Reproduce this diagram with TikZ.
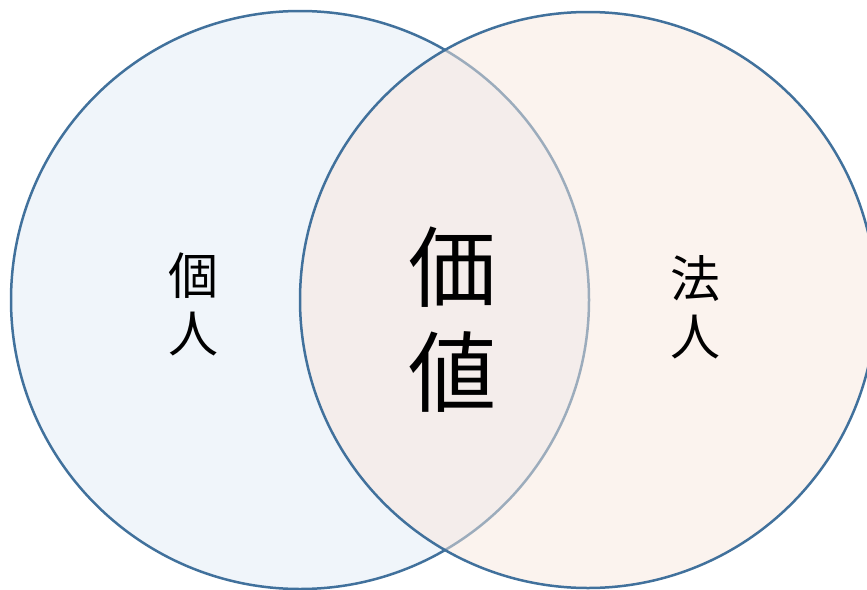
\documentclass[tikz,border=0pt]{standalone}
\usepackage{fontspec}
\newfontfamily\jpfont{Noto Sans CJK JP}
\definecolor{ringblue}{RGB}{65,113,156}
\definecolor{leftfill}{RGB}{240,245,250}
\definecolor{rightfill}{RGB}{248,231,221}
\tikzset{
  ring/.style={circle, draw=ringblue, line width=2.5pt, inner sep=0pt, minimum size=#1},
  label/.style={font=\jpfont\fontsize{50}{58}\selectfont, align=center, inner sep=0pt, text=black},
  biglabel/.style={font=\jpfont\fontsize{88}{105}\selectfont, align=center, inner sep=0pt, text=black}
}
\begin{document}
\begin{tikzpicture}[x=1pt,y=-1pt]
\useasboundingbox (0,0) rectangle (867,589);
\node[ring=578pt, fill=leftfill] (left) at (300,300) {};
\node[ring=576pt, fill=rightfill, fill opacity=0.5] (right) at (588,300) {};
\node[label] (kojin) at (193,304) {個\\人};
\node[biglabel] (kachi) at (452,320) {価\\値};
\node[label] (hojin) at (695,307) {法\\人};
\end{tikzpicture}
\end{document}
